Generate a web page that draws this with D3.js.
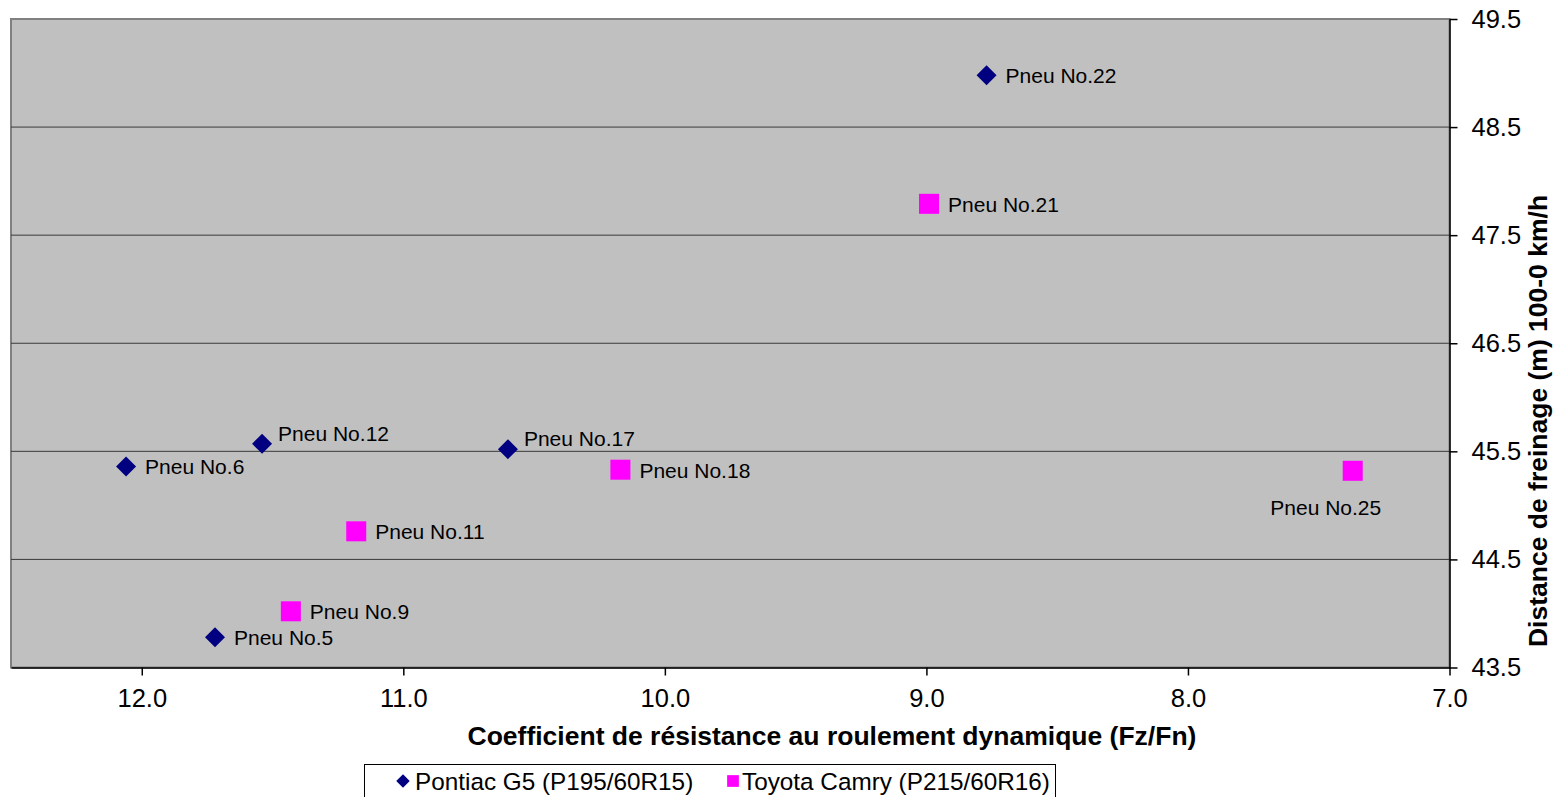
<!DOCTYPE html>
<html>
<head>
<meta charset="utf-8">
<style type="text/css">
body { margin: 0; background: #fff; }
svg { font-family: "Liberation Sans", Arial, sans-serif; }
.grid line { stroke: #3a3a3a; stroke-width: 1; }
.axis path, .axis line { stroke: #000; stroke-width: 1.5; }
.axis text { font-size: 25.5px; fill: #000; }
.ptlabel { font-size: 21px; fill: #000; }
.title { font-size: 26.5px; font-weight: bold; fill: #000; }
.legend text { font-size: 24.3px; fill: #000; }
</style>
<script src="https://d3js.org/d3.v7.min.js"></script>
</head>
<body>
<script type="text/javascript">
var width = 1556, height = 797;

// Pontiac G5 (P195/60R15)
var pontiacNames = ["Pneu No.5", "Pneu No.6", "Pneu No.12", "Pneu No.17", "Pneu No.22"];
var pontiacX = [11.72, 12.06, 11.54, 10.60, 8.77];
var pontiacY = [43.78, 45.36, 45.57, 45.52, 48.98];
var pontiacLabel = ["right", "right", "aboveRight", "aboveRight", "right"];

// Toyota Camry (P215/60R16)
var toyotaNames = ["Pneu No.9", "Pneu No.11", "Pneu No.18", "Pneu No.21", "Pneu No.25"];
var toyotaX = [11.43, 11.18, 10.17, 8.99, 7.37];
var toyotaY = [44.02, 44.76, 45.33, 47.79, 45.32];
var toyotaLabel = ["right", "right", "right", "right", "below"];

var xTicks = [12.0, 11.0, 10.0, 9.0, 8.0, 7.0];
var yTicks = [43.5, 44.5, 45.5, 46.5, 47.5, 48.5, 49.5];
var seriesNames = ["Pontiac G5 (P195/60R15)", "Toyota Camry (P215/60R16)"];
var xTitle = "Coefficient de résistance au roulement dynamique (Fz/Fn)";
var yTitle = "Distance de freinage (m) 100-0 km/h";

var plot = {left: 11, top: 19, right: 1449.5, bottom: 667.5};

var svg = d3.select("body").append("svg").attr("width", width).attr("height", height);

var x = d3.scaleLinear().domain([12.5, 7.0]).range([plot.left, plot.right]);
var y = d3.scaleLinear().domain([43.5, 49.5]).range([plot.bottom, plot.top]);

// plot background
svg.append("rect")
	.attr("x", plot.left).attr("y", plot.top)
	.attr("width", plot.right - plot.left).attr("height", plot.bottom - plot.top)
	.attr("fill", "#c0c0c0")
	.attr("stroke", "#808080").attr("stroke-width", 2);

// gridlines
svg.append("g").attr("class", "grid")
	.selectAll("line").data(yTicks.slice(1, -1)).enter().append("line")
	.attr("x1", plot.left).attr("x2", plot.right)
	.attr("y1", function(d) { return y(d); })
	.attr("y2", function(d) { return y(d); });

// axes
svg.append("g").attr("class", "axis")
	.attr("transform", "translate(0," + plot.bottom + ")")
	.call(d3.axisBottom(x).tickValues(xTicks).tickFormat(d3.format(".1f")).tickSize(8).tickSizeOuter(0).tickPadding(13));

svg.append("g").attr("class", "axis")
	.attr("transform", "translate(" + plot.right + ",0)")
	.call(d3.axisRight(y).tickValues(yTicks).tickFormat(d3.format(".1f")).tickSize(8).tickSizeOuter(0).tickPadding(14));

// titles
svg.append("text").attr("class", "title")
	.attr("x", 832).attr("y", 745)
	.attr("text-anchor", "middle")
	.text(xTitle);

svg.append("text").attr("class", "title")
	.attr("transform", "translate(1547,421) rotate(-90)")
	.attr("text-anchor", "middle")
	.text(yTitle);

var diamond = d3.symbol().type(d3.symbolDiamond2);
var square = d3.symbol().type(d3.symbolSquare2);

function drawSeries(names, xs, ys, labels, path, color) {
	var data = names.map(function(n, i) { return {name: n, x: xs[i], y: ys[i], pos: labels[i]}; });
	var g = svg.append("g");
	g.selectAll("path").data(data).enter().append("path")
		.attr("transform", function(d) { return "translate(" + x(d.x) + "," + y(d.y) + ")"; })
		.attr("d", path)
		.attr("fill", color);
	g.selectAll("text").data(data).enter().append("text")
		.attr("class", "ptlabel")
		.attr("x", function(d) {
			if (d.pos === "below") return x(d.x) - 27;
			if (d.pos === "aboveRight") return x(d.x) + 16;
			return x(d.x) + 19;
		})
		.attr("y", function(d) {
			if (d.pos === "below") return y(d.y) + 44;
			if (d.pos === "aboveRight") return y(d.y) - 3;
			return y(d.y) + 8;
		})
		.attr("text-anchor", function(d) { return d.pos === "below" ? "middle" : "start"; })
		.text(function(d) { return d.name; });
}

drawSeries(pontiacNames, pontiacX, pontiacY, pontiacLabel, diamond.size(255), "#000080");
drawSeries(toyotaNames, toyotaX, toyotaY, toyotaLabel, square.size(510), "#ff00ff");

// legend
var legend = svg.append("g").attr("class", "legend");
legend.append("rect")
	.attr("x", 364.5).attr("y", 764.5).attr("width", 691).attr("height", 40)
	.attr("fill", "#fff").attr("stroke", "#000").attr("stroke-width", 1);
legend.append("path")
	.attr("transform", "translate(403,781)")
	.attr("d", diamond.size(115)).attr("fill", "#000080");
legend.append("text").attr("x", 415).attr("y", 790).text(seriesNames[0]);
legend.append("path")
	.attr("transform", "translate(733,781)")
	.attr("d", square.size(175)).attr("fill", "#ff00ff");
legend.append("text").attr("x", 742).attr("y", 790).text(seriesNames[1]);
</script>
</body>
</html>
